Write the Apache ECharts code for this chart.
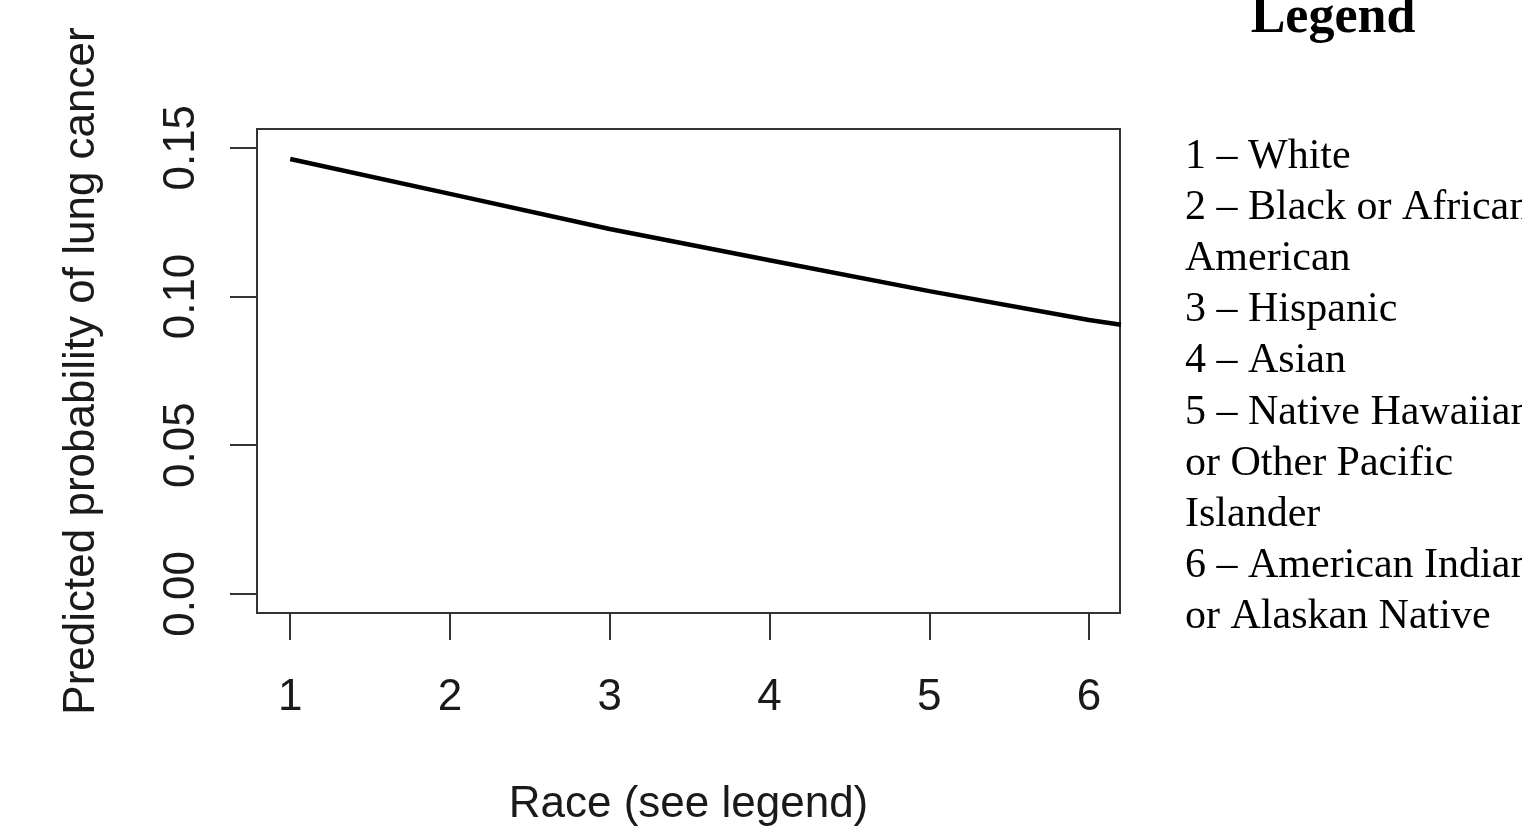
<!DOCTYPE html>
<html>
<head>
<meta charset="utf-8">
<script src="https://cdn.jsdelivr.net/npm/echarts@6/dist/echarts.min.js"></script>
<style>
html,body{margin:0;padding:0;background:#fff;}
#chart{width:1522px;height:838px;}
</style>
</head>
<body>
<div id="chart"></div>
<script>
// Data
const raceCodes = [1, 2, 3, 4, 5, 6, 6.2];
const predictedProb = [0.1462, 0.1345, 0.1227, 0.1122, 0.1018, 0.0921, 0.0905];
const xTickValues = [1, 2, 3, 4, 5, 6];
const yTickValues = [0, 0.05, 0.10, 0.15];
const yTickLabels = ['0.00', '0.05', '0.10', '0.15'];
const legendTitle = 'Legend';
const legendLines = [
  '1 – White',
  '2 – Black or African',
  'American',
  '3 – Hispanic',
  '4 – Asian',
  '5 – Native Hawaiian',
  'or Other Pacific',
  'Islander',
  '6 – American Indian',
  'or Alaskan Native'
];
const xTitle = 'Race (see legend)';
const yTitle = 'Predicted probability of lung cancer';

const seriesData = raceCodes.map((x, i) => [x, predictedProb[i]]);
const axisColor = '#333';
const textColor = '#1a1a1a';
const sansFont = '"Liberation Sans", Arial, sans-serif';
const serifFont = '"Liberation Serif", "Times New Roman", serif';

const chart = echarts.init(document.getElementById('chart'), null, {renderer: 'canvas'});
chart.setOption({
  animation: false,
  backgroundColor: '#ffffff',
  grid: {
    left: 257, top: 129, width: 863, height: 484,
    show: true, borderColor: axisColor, borderWidth: 2, backgroundColor: 'transparent'
  },
  xAxis: {
    type: 'value',
    min: 0.792, max: 6.194,
    axisLine: {show: false, onZero: false},
    splitLine: {show: false},
    axisTick: {show: true, length: 27, lineStyle: {color: axisColor, width: 2}, customValues: xTickValues},
    axisLabel: {
      customValues: xTickValues,
      margin: 63,
      fontSize: 44, fontFamily: sansFont, color: textColor,
      formatter: v => String(v)
    },
    name: xTitle,
    nameLocation: 'middle',
    nameGap: 170,
    nameTextStyle: {fontSize: 44, fontFamily: sansFont, color: textColor}
  },
  yAxis: {
    type: 'value',
    min: -0.0064, max: 0.1563,
    axisLine: {show: false, onZero: false},
    splitLine: {show: false},
    axisTick: {show: true, length: 27, lineStyle: {color: axisColor, width: 2}, customValues: yTickValues},
    axisLabel: {
      customValues: yTickValues,
      rotate: 90,
      margin: 53,
      fontSize: 44, fontFamily: sansFont, color: textColor,
      formatter: v => {
        const i = yTickValues.findIndex(t => Math.abs(t - v) < 1e-9);
        return i >= 0 ? yTickLabels[i] : '';
      }
    },
    name: yTitle,
    nameLocation: 'middle',
    nameGap: 153,
    nameRotate: 90,
    nameTextStyle: {fontSize: 44, fontFamily: sansFont, color: textColor}
  },
  series: [{
    type: 'line',
    data: seriesData,
    smooth: false,
    showSymbol: false,
    clip: true,
    lineStyle: {color: '#000', width: 4.5}
  }],
  graphic: [
    {
      type: 'text',
      style: {
        x: 1333, y: 19,
        text: legendTitle,
        font: 'bold 52px ' + serifFont,
        fill: '#000',
        textAlign: 'center',
        textVerticalAlign: 'middle'
      }
    },
    {
      type: 'text',
      style: {
        x: 1185, y: 131.5,
        text: legendLines.join('\n'),
        font: '42px ' + serifFont,
        lineHeight: 51.1,
        fill: '#000',
        textAlign: 'left',
        textVerticalAlign: 'top'
      }
    }
  ]
});
</script>
</body>
</html>
